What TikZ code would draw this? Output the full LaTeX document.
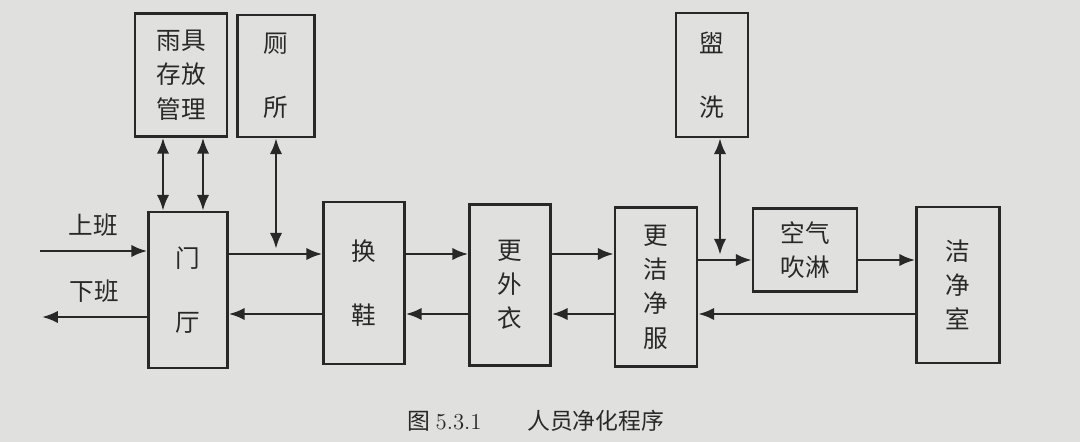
\documentclass[tikz,border=0pt]{standalone}
\usepackage{fontspec}
\usepackage{xcolor}
\usepackage{tikz}
\usetikzlibrary{arrows.meta,positioning,calc}
\newfontfamily\cjk{Noto Sans CJK SC}
\definecolor{paper}{RGB}{224,224,222}
\definecolor{ink}{RGB}{40,40,40}
\tikzset{
  stage/.style={draw=ink, line width=1.5pt, fill=paper, inner sep=2pt, align=center,
    font=\cjk\fontsize{14pt}{19.5pt}\selectfont, text=ink},
  arr/.style={-{Latex[length=9pt,width=7pt]}, ink, line width=1.4pt},
  darr/.style={{Latex[length=9pt,width=7pt]}-{Latex[length=9pt,width=7pt]}, ink, line width=1.4pt},
  lbl/.style={font=\cjk\fontsize{14pt}{16pt}\selectfont, text=ink},
}
\begin{document}
\begin{tikzpicture}[x=0.02cm, y=-0.02cm]
  \fill[paper] (0,0) rectangle (1080,442);
  \useasboundingbox (0,0) rectangle (1080,442);
  % levels of the two flow lines
  \coordinate (fwd) at (0,254);
  \coordinate (bwd) at (0,314);
  \coordinate (fwdb) at (0,260);
  \coordinate (inl) at (40,251);
  \coordinate (outl) at (42,317);
  % stations
  \node[stage, minimum width=1.84cm, minimum height=2.46cm] (yuju) at (181,75) {雨具\\存放\\管理};
  \node[stage, minimum width=1.54cm, minimum height=2.44cm] (cesuo) at (276,76) {厕\\[17pt]所};
  \node[stage, minimum width=1.58cm, minimum height=3.12cm] (menting) at (188,290) {门\\[17pt]厅};
  \node[stage, minimum width=1.62cm, minimum height=3.24cm] (huanxie) at (364,283) {换\\[17pt]鞋};
  \node[stage, minimum width=1.62cm, minimum height=3.22cm] (waiyi) at (510,285) {更\\外\\衣};
  \node[stage, minimum width=1.64cm, minimum height=3.18cm] (jingfu) at (656,287) {更\\洁\\净\\服};
  \node[stage, minimum width=1.44cm, minimum height=2.48cm] (guanxi) at (712,75) {盥\\[17pt]洗};
  \node[stage, minimum width=2.08cm, minimum height=1.66cm] (chuilin) at (805,250) {空气\\吹淋};
  \node[stage, minimum width=1.66cm, minimum height=3.12cm] (jingshi) at (958,285) {洁\\净\\室};
  % in and out
  \draw[arr] (inl) -- (menting.west |- inl) node[lbl, midway, above=4pt] {上班};
  \draw[arr] (menting.west |- outl) -- (outl) node[lbl, midway, above=4pt] {下班};
  % forward flow
  \draw[arr] (menting.east |- fwd) -- (huanxie.west |- fwd);
  \draw[arr] (huanxie.east |- fwd) -- (waiyi.west |- fwd);
  \draw[arr] (waiyi.east |- fwd) -- (jingfu.west |- fwd);
  \draw[arr] (jingfu.east |- fwdb) -- (chuilin.west |- fwdb);
  \draw[arr] (chuilin.east |- fwdb) -- (jingshi.west |- fwdb);
  % backward flow
  \draw[arr] (jingshi.west |- bwd) -- (jingfu.east |- bwd);
  \draw[arr] (jingfu.west |- bwd) -- (waiyi.east |- bwd);
  \draw[arr] (waiyi.west |- bwd) -- (huanxie.east |- bwd);
  \draw[arr] (huanxie.west |- bwd) -- (menting.east |- bwd);
  % side rooms
  \draw[darr] ([xshift=-0.36cm]yuju.south) -- ([xshift=-0.36cm]yuju.south |- menting.north);
  \draw[darr] ([xshift=0.44cm]yuju.south) -- ([xshift=0.44cm]yuju.south |- menting.north);
  \draw[darr] (cesuo.south) -- ([yshift=3pt]cesuo.south |- fwd);
  \draw[darr] ([xshift=0.16cm]guanxi.south) -- ([xshift=0.16cm,yshift=3pt]guanxi.south |- fwdb);
  % caption
  \node[lbl, font=\cjk\fontsize{13pt}{15pt}\selectfont] (cap) at (536,421) {图 {\rmfamily 5.3.1}\qquad 人员净化程序};
\end{tikzpicture}
\end{document}
